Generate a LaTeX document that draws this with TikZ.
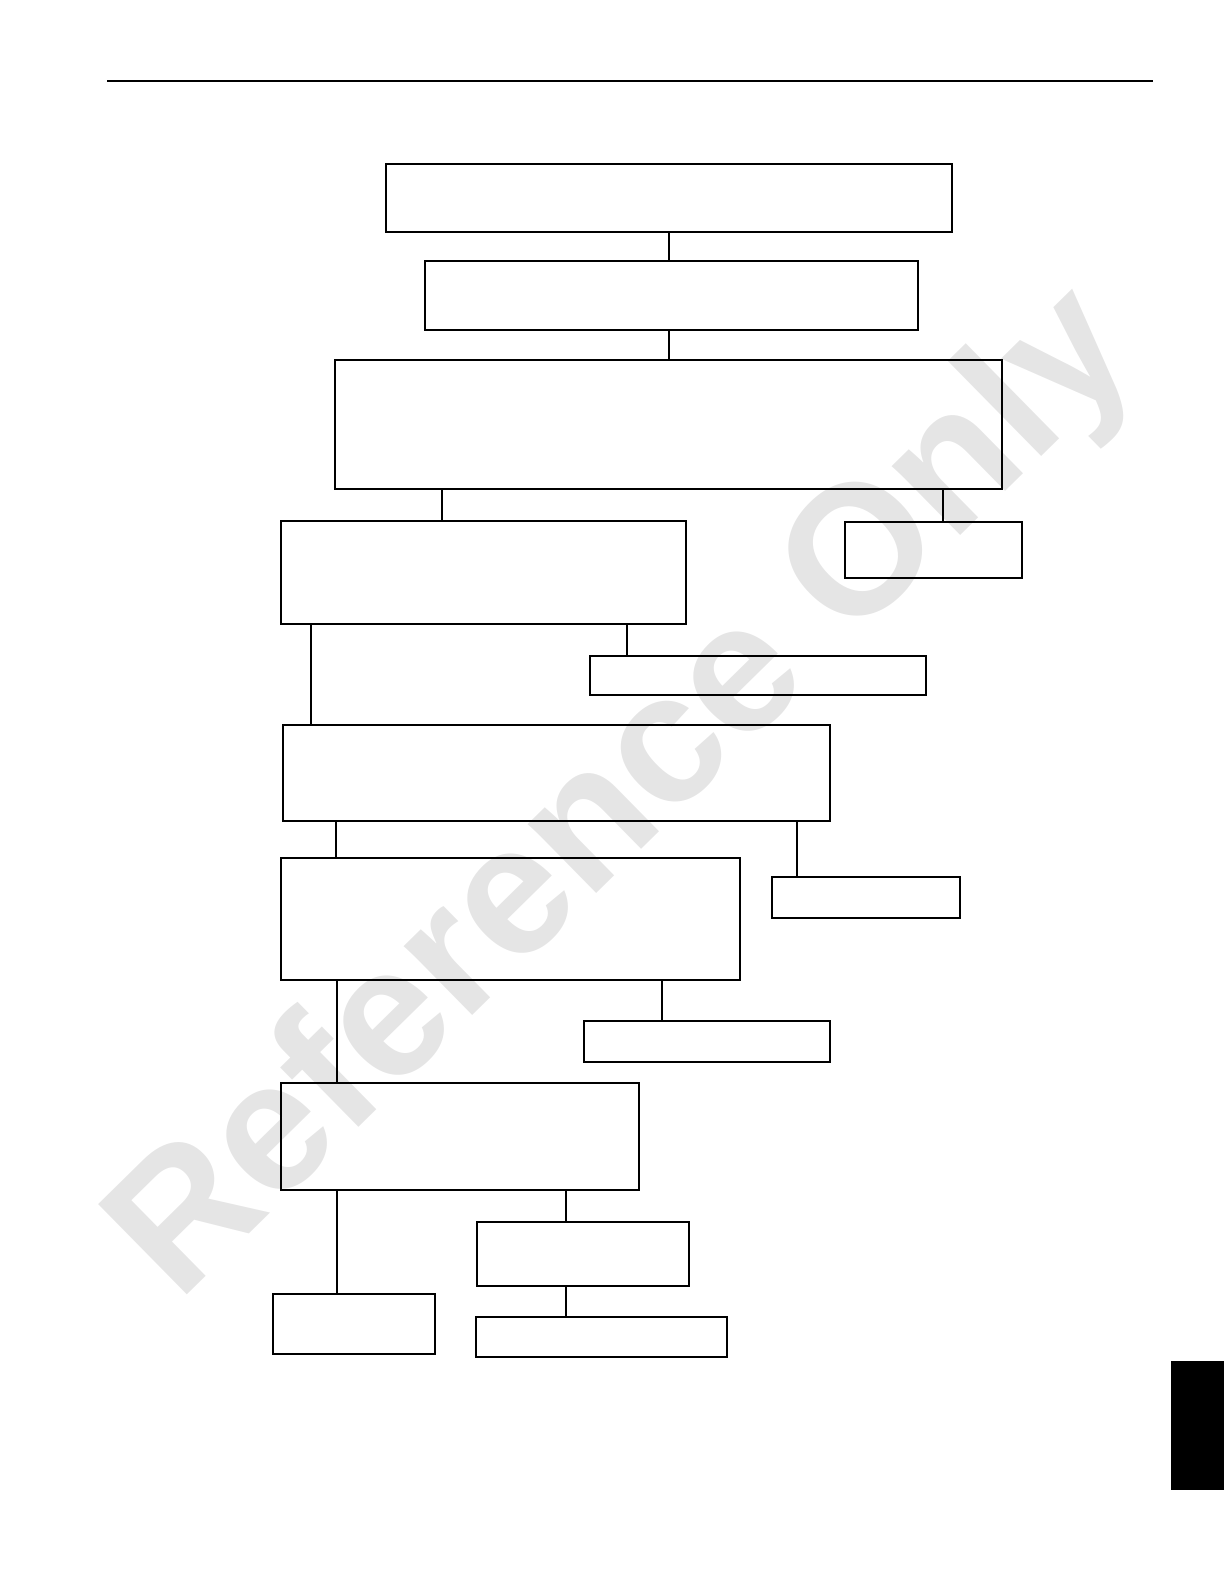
\documentclass[tikz,border=0pt]{standalone}
\usepackage{fontspec}
\setsansfont{Liberation Sans}
\usetikzlibrary{fit}
\tikzset{
	box/.style={draw, line width=0.3mm, inner sep=0pt},
	thickbox/.style={box, line width=0.45mm},
	thinbox/.style={box, line width=0.2mm},
	stamp/.style={rotate=44.5, text=black!10, font=\sffamily\bfseries\fontsize{92}{92}\selectfont}
}

\begin{document}
\begin{tikzpicture}[x=0.5pt, y=-0.5pt]
			%%%%% START %%%%%
			\useasboundingbox (0, 0) rectangle (1224, 1584);
			
			\node[stamp] (mark) at (627, 797) {Reference Only};
			
			\draw[line width=0.4mm] (107, 80.7) -- (1153, 80.7);
			
			\node[box, fit={(386, 164) (952, 232)}] (b1) {};
			\node[box, fit={(425, 261) (918, 330)}] (b2) {};
			\node[thickbox, fit={(335, 360) (1002, 489)}] (b3) {};
			
			\node[box, fit={(281, 521) (686, 624)}] (b4) {};
			\node[thickbox, fit={(845, 522) (1022, 578)}] (b5) {};
			
			\node[thickbox, fit={(590, 656) (926, 695)}] (b6) {};
			\node[thinbox, fit={(283, 725) (830, 821)}] (b7) {};
			
			\node[thickbox, fit={(281, 858) (740, 980)}] (b8) {};
			\node[thickbox, fit={(772, 877) (960, 918)}] (b9) {};
			
			\node[box, fit={(584, 1021) (830, 1062)}] (b10) {};
			\node[thickbox, fit={(281, 1083) (639, 1190)}] (b11) {};
			
			\node[thickbox, fit={(477, 1222) (689, 1286)}] (b12) {};
			\node[thickbox, fit={(273, 1294) (435, 1354)}] (b13) {};
			\node[thickbox, fit={(476, 1317) (727, 1357)}] (b14) {};
			
			\foreach \from/\to/\cx/\lw in {b1/b2/669/0.3mm, b2/b3/669/0.3mm, b3/b4/442/0.3mm,
				b3/b5/943/0.2mm, b4/b6/627/0.2mm, b4/b7/311/0.3mm, b7/b8/336/0.3mm,
				b7/b9/797/0.2mm, b8/b10/662/0.3mm, b8/b11/337/0.3mm,
				b11/b12/566/0.3mm, b11/b13/337/0.3mm, b12/b14/566/0.3mm}
				\draw[line width=\lw] (\cx, 0 |- \from.south) -- (\cx, 0 |- \to.north);
			
			\fill (1171, 1361) rectangle (1224, 1490);
			%%%%% END %%%%%
		\end{tikzpicture}
\end{document}
